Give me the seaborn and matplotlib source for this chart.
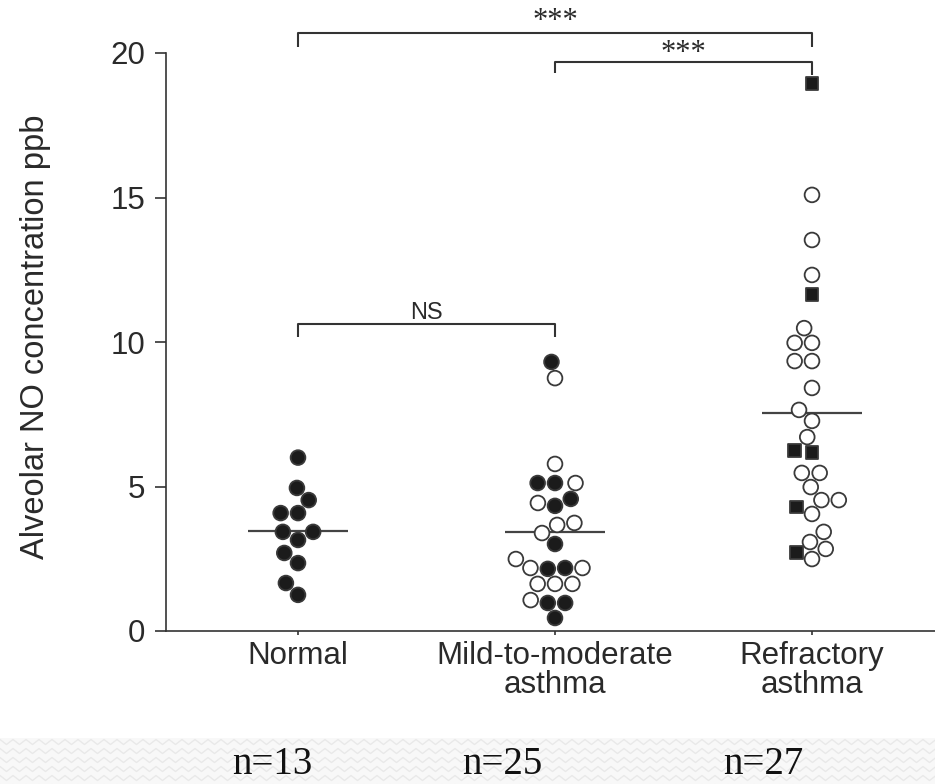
import numpy as np
import pandas as pd
import matplotlib
matplotlib.use("Agg")
import matplotlib.pyplot as plt
from matplotlib.lines import Line2D
from matplotlib.patches import Rectangle
from matplotlib.markers import MarkerStyle
import seaborn as sns

# ---------------- data ----------------
categories = ["Normal", "Mild-to-moderate\nasthma", "Refractory\nasthma"]
normal_filled = [6.0, 4.95, 4.53, 4.08, 4.08, 3.43, 3.43, 3.15, 2.70, 2.35, 1.66, 1.25]
mild_filled = [9.31, 5.12, 5.12, 4.57, 4.33, 3.01, 2.18, 2.15, 0.97, 0.97, 0.45]
mild_open = [8.75, 5.78, 5.12, 4.43, 3.74, 3.67, 3.39, 2.49, 2.18, 2.18, 1.63, 1.63, 1.63, 1.07]
refr_open = [15.09, 13.53, 12.32, 10.48, 9.97, 9.97, 9.34, 9.34, 8.41, 7.65, 7.27, 6.71,
             5.47, 5.47, 4.98, 4.53, 4.53, 4.05, 3.43, 3.08, 2.84, 2.49]
refr_square = [18.96, 11.63, 6.23, 6.16, 4.29, 2.73]
n_labels = ["n=13", "n=25", "n=27"]
y_ticks = [0, 5, 10, 15, 20]
ylabel = "Alveolar NO concentration ppb"
ns_label = "NS"
star_label = "***"

rows = []
for v in normal_filled:
    rows.append((categories[0], v, "filled"))
for v in mild_filled:
    rows.append((categories[1], v, "filled"))
for v in mild_open:
    rows.append((categories[1], v, "open"))
for v in refr_open:
    rows.append((categories[2], v, "open"))
for v in refr_square:
    rows.append((categories[2], v, "square"))
df = pd.DataFrame(rows, columns=["group", "value", "kind"])

# ---------------- figure ----------------
sns.set_style("white")
plt.rcParams["font.family"] = ["Liberation Sans", "DejaVu Sans"]

W, H = 935, 784
fig = plt.figure(figsize=(W / 100, H / 100), dpi=100)
fig.patch.set_facecolor("white")

# decorative patterned band at the bottom
band_top = 738
fig.add_artist(Rectangle((0, 0), 1, (H - band_top) / H, transform=fig.transFigure,
                         facecolor="#f8f8f8", edgecolor="none", zorder=0))
zx = np.arange(0, W + 13, 6.5)
for ry in np.arange(band_top + 4, H + 4, 9):
    zy = ry + np.where(np.arange(len(zx)) % 2 == 0, -2.5, 2.5)
    fig.add_artist(Line2D(zx / W, (H - zy) / H, transform=fig.transFigure,
                          color="#e9e9e9", lw=1.0, zorder=0.5))

ax = fig.add_axes([166 / W, (H - 631) / H, (W - 166) / W, 631 / H])
ax.set_facecolor("none")

palette = {"filled": "#1b1b1b", "open": "white", "square": "#1b1b1b"}
sns.swarmplot(data=df, x="group", y="value", hue="kind", order=categories,
              hue_order=["filled", "open", "square"], palette=palette,
              size=10.6, linewidth=1.3, edgecolor="#3a3a3a", legend=False, ax=ax, zorder=3)

# switch square-kind points to square markers
ms_c = MarkerStyle("o")
circle_path = ms_c.get_path().transformed(ms_c.get_transform())
ms_s = MarkerStyle("s")
square_path = ms_s.get_path().transformed(ms_s.get_transform().frozen().scale(0.88))
for coll in ax.collections:
    offs = coll.get_offsets()
    if len(offs) == 0:
        continue
    idx = int(round(offs[0, 0]))
    kinds = df.loc[df["group"] == categories[idx], "kind"].tolist()
    if len(kinds) == len(offs):
        coll.set_paths([square_path if k == "square" else circle_path for k in kinds])

# mean lines
sns.pointplot(data=df, x="group", y="value", order=categories, estimator="mean",
              errorbar=None, color="#444444", marker="_", linestyle="none",
              markersize=72, markeredgewidth=1.6, ax=ax, zorder=2)

# axes styling
ax.set_xlim(-(298 - 166) / 257, (W - 298) / 257)
ax.set_ylim(0, 631 / 28.9)
ax.set_yticks(y_ticks)
ax.set_yticklabels([str(t) for t in y_ticks])
ax.set_xticks(range(len(categories)))
ax.set_xticklabels(categories, linespacing=0.95)
ax.set_xlabel("")
ax.set_ylabel(ylabel, fontsize=23.5, color="#2a2a2a")
ax.yaxis.set_label_coords(-0.150, 0.466)

for s in ["top", "right"]:
    ax.spines[s].set_visible(False)
ax.spines["left"].set_bounds(0, 20)
for s in ["left", "bottom"]:
    ax.spines[s].set_color("#333333")
    ax.spines[s].set_linewidth(1.2)

ax.tick_params(axis="y", direction="out", length=8, width=1.2, color="#333333",
               pad=7, labelsize=22.5, labelcolor="#2a2a2a", left=True)
ax.tick_params(axis="x", direction="out", length=3, width=1.2, color="#333333",
               pad=4, labelsize=22.5, labelcolor="#2a2a2a", bottom=True)

# significance brackets
bk = dict(color="#333333", lw=1.5, solid_capstyle="butt", clip_on=False, zorder=4)
ax.plot([0, 0, 2, 2], [20.21, 20.69, 20.69, 20.21], **bk)
ax.plot([1, 1, 2, 2], [19.31, 19.69, 19.69, 19.25], **bk)
ax.plot([0, 0, 1, 1], [10.17, 10.62, 10.62, 10.17], **bk)
ax.text(0.5, 11.02, ns_label, ha="center", va="center", fontsize=17, color="#2a2a2a")
ax.text(1.0, 20.82, star_label, ha="center", va="baseline", fontsize=22,
        family=["Liberation Serif", "DejaVu Serif"], color="#2a2a2a", clip_on=False)
ax.text(1.5, 19.72, star_label, ha="center", va="baseline", fontsize=22,
        family=["Liberation Serif", "DejaVu Serif"], color="#2a2a2a", clip_on=False)

# n labels
for xpx, lab in zip([272, 502, 763], n_labels):
    fig.text(xpx / W, (H - 765) / H, lab, ha="center", va="center", fontsize=28,
             family=["Liberation Serif", "DejaVu Serif"], color="#111111")

fig.savefig("out.png", dpi=100, facecolor=fig.get_facecolor())
